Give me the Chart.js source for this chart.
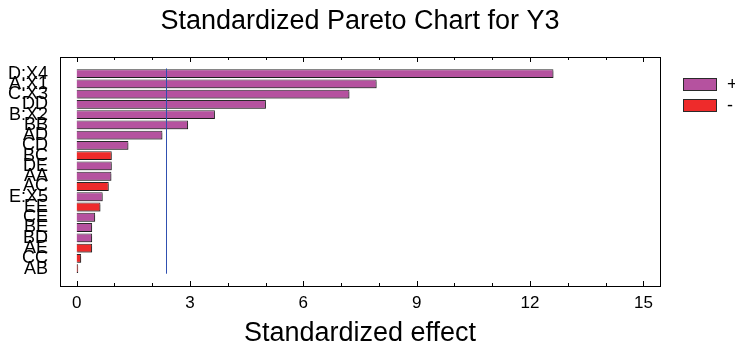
<!DOCTYPE html>
<html>
<head>
<meta charset="utf-8">
<script src="https://cdn.jsdelivr.net/npm/chart.js@4"></script>
<style>
  html, body { margin: 0; padding: 0; background: #fff; }
</style>
</head>
<body>
<canvas id="paretoChart" width="735" height="350"></canvas>
<script>
// Effects, sorted by size (top to bottom)
const categories = ['D:X4', 'A:X1', 'C:X3', 'DD', 'B:X2', 'BB', 'AD', 'CD', 'BC', 'DE',
  'AA', 'AC', 'E:X5', 'EE', 'CE', 'BE', 'BD', 'AE', 'CC', 'AB'];
const effects = [12.62, 7.94, 7.22, 5.01, 3.66, 2.95, 2.27, 1.37, 0.93, 0.93,
  0.92, 0.85, 0.69, 0.63, 0.49, 0.41, 0.41, 0.41, 0.12, 0.04];
const signs = ['+', '+', '+', '+', '+', '+', '+', '+', '-', '+',
  '+', '-', '+', '-', '+', '+', '+', '-', '-', '-'];
const xTicks = [0, 3, 6, 9, 12, 15];
const criticalValue = 2.36;

Chart.defaults.font.family = '"Liberation Sans", Arial, sans-serif';
Chart.defaults.color = '#000';

// split the effects into positive and negative series
const posData = [];
const negData = [];
categories.forEach((c, i) => {
  const pt = { x: effects[i], y: i };
  if (signs[i] === '+') posData.push(pt); else negData.push(pt);
});

// grey drop shadow under the bars
const barShadow = {
  id: 'barShadow',
  beforeDatasetsDraw(chart) {
    const ctx = chart.ctx;
    ctx.save();
    ctx.shadowColor = 'rgba(0,0,0,0.3)';
    ctx.shadowOffsetX = 1;
    ctx.shadowOffsetY = 2;
    ctx.shadowBlur = 0;
  },
  afterDatasetsDraw(chart) {
    chart.ctx.restore();
  }
};

// critical value line, plot frame with inward ticks, and legend
const decorations = {
  id: 'decorations',
  afterDraw(chart) {
    const { ctx, chartArea, scales } = chart;
    const x = scales.x, y = scales.y;
    ctx.save();

    // vertical line at the critical value
    const cx = Math.round(x.getPixelForValue(criticalValue)) + 0.5;
    ctx.strokeStyle = '#3050b0';
    ctx.lineWidth = 1;
    ctx.beginPath();
    ctx.moveTo(cx, y.getPixelForValue(-0.5));
    ctx.lineTo(cx, y.getPixelForValue(categories.length - 0.5));
    ctx.stroke();

    // frame
    ctx.strokeStyle = '#000';
    ctx.strokeRect(chartArea.left + 0.5, chartArea.top + 0.5,
      chartArea.right - chartArea.left, chartArea.bottom - chartArea.top);

    // inward ticks on top and bottom
    ctx.beginPath();
    for (let v = 0; v <= xTicks[xTicks.length - 1]; v++) {
      const px = Math.round(x.getPixelForValue(v)) + 0.5;
      const len = xTicks.includes(v) ? 5 : 3;
      ctx.moveTo(px, chartArea.bottom);
      ctx.lineTo(px, chartArea.bottom - len);
      ctx.moveTo(px, chartArea.top);
      ctx.lineTo(px, chartArea.top + len);
    }
    ctx.stroke();

    // legend
    ctx.font = '18px "Liberation Sans", Arial, sans-serif';
    ctx.textBaseline = 'middle';
    ctx.textAlign = 'left';
    chart.data.datasets.forEach((ds, i) => {
      const lx = chartArea.right + 23;
      const ly = chartArea.top + 21 + i * 21;
      ctx.fillStyle = ds.backgroundColor;
      ctx.fillRect(lx, ly, 34, 13);
      ctx.strokeStyle = '#2a2a2a';
      ctx.strokeRect(lx + 0.5, ly + 0.5, 33, 12);
      ctx.fillStyle = '#000';
      ctx.fillText(ds.label, lx + 44, ly + 7);
    });
    ctx.restore();
  }
};

const ctx = document.getElementById('paretoChart');

new Chart(ctx, {
  type: 'bar',
  data: {
    datasets: [
      { label: '+', data: posData, backgroundColor: '#b5529f' },
      { label: '-', data: negData, backgroundColor: '#ee2b2b' }
    ]
  },
  options: {
    indexAxis: 'y',
    responsive: false,
    animation: false,
    layout: { padding: { left: 8, right: 75, top: 0, bottom: 0 } },
    datasets: {
      bar: {
        grouped: false,
        categoryPercentage: 1,
        barPercentage: 0.86,
        borderWidth: 1,
        borderColor: '#2a2a2a'
      }
    },
    plugins: {
      legend: { display: false },
      tooltip: { enabled: false },
      title: {
        display: true,
        text: 'Standardized Pareto Chart for Y3',
        fullSize: false,
        font: { size: 27, weight: 'normal' },
        color: '#000',
        padding: { top: 5, bottom: 19.6 }
      }
    },
    scales: {
      x: {
        type: 'linear',
        position: 'bottom',
        min: -0.44,
        max: 15.44,
        grid: { display: false, drawTicks: false },
        border: { display: false },
        afterBuildTicks: (axis) => { axis.ticks = xTicks.map(v => ({ value: v })); },
        ticks: { font: { size: 17 }, color: '#000', padding: 7, maxRotation: 0 },
        title: {
          display: true,
          text: 'Standardized effect',
          font: { size: 27 },
          color: '#000',
          padding: 0
        },
        afterFit: (axis) => { axis.height = 64; }
      },
      y: {
        type: 'linear',
        reverse: true,
        min: -1.06,
        max: 20.14,
        grid: { display: false, drawTicks: false },
        border: { display: false },
        afterBuildTicks: (axis) => { axis.ticks = categories.map((c, i) => ({ value: i })); },
        ticks: {
          autoSkip: false,
          font: { size: 18 },
          color: '#000',
          padding: 12,
          callback: (v) => categories[v]
        },
        afterFit: (axis) => { axis.width = 52; }
      }
    }
  },
  plugins: [barShadow, decorations]
});
</script>
</body>
</html>
